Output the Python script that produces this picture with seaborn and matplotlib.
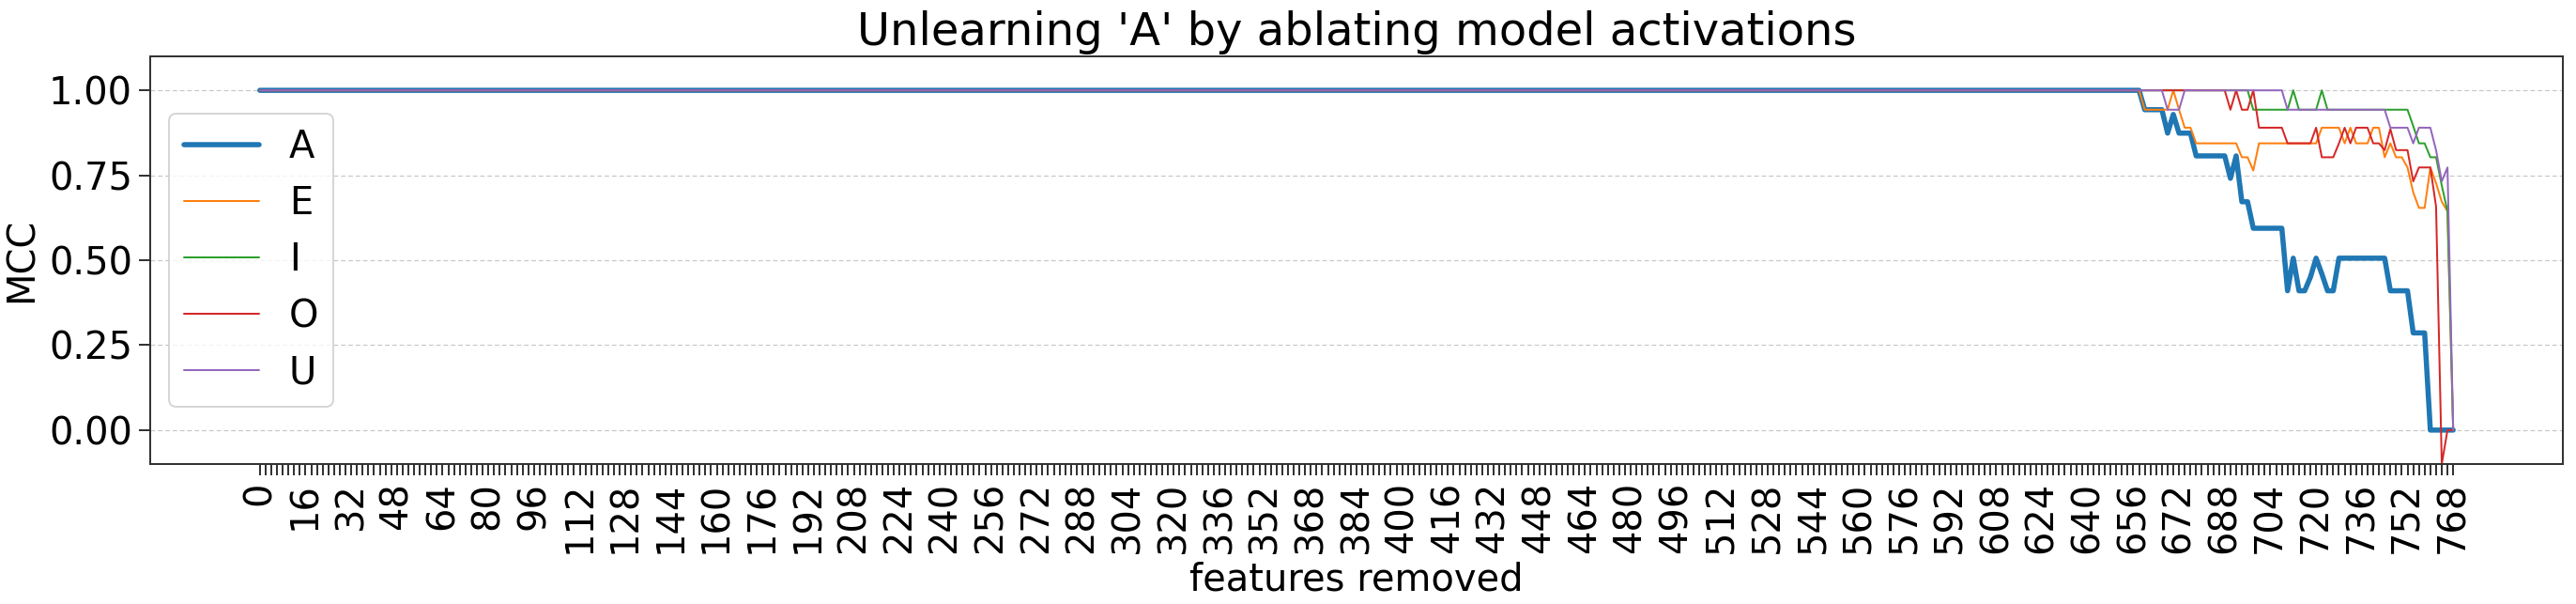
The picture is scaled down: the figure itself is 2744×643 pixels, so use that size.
import pandas as pd
import matplotlib
matplotlib.use("Agg")
import matplotlib.pyplot as plt
import seaborn as sns

# features removed, in steps of 2
features = list(range(0, 770, 2))
# every letter sits at MCC 1.0 until 656 features are removed
n_flat = len(range(0, 656, 2))

# MCC values from 656 to 768 (step 2)
a_tail = [1.0, 1.0, 0.943, 0.943, 0.943, 0.943, 0.874, 0.929, 0.874, 0.874,
          0.874, 0.807, 0.807, 0.807, 0.807, 0.807, 0.807, 0.741, 0.807, 0.672,
          0.672, 0.594, 0.594, 0.594, 0.594, 0.594, 0.594, 0.41, 0.506, 0.41,
          0.41, 0.45, 0.506, 0.46, 0.41, 0.41, 0.506, 0.506, 0.506, 0.506,
          0.506, 0.506, 0.506, 0.506, 0.506, 0.41, 0.41, 0.41, 0.41, 0.286,
          0.286, 0.286, 0.0, 0.0, 0.0, 0.0, 0.0]
e_tail = [1.0, 1.0, 0.943, 0.943, 0.943, 0.943, 0.943, 1.0, 0.943, 0.89,
          0.89, 0.844, 0.844, 0.844, 0.844, 0.844, 0.844, 0.844, 0.844, 0.803,
          0.803, 0.764, 0.844, 0.844, 0.844, 0.844, 0.844, 0.844, 0.844, 0.844,
          0.844, 0.844, 0.844, 0.89, 0.89, 0.89, 0.89, 0.844, 0.89, 0.844,
          0.844, 0.844, 0.89, 0.89, 0.803, 0.844, 0.803, 0.803, 0.773, 0.70,
          0.654, 0.654, 0.773, 0.727, 0.672, 0.644, 0.0]
i_tail = [1.0, 1.0, 1.0, 1.0, 1.0, 1.0, 1.0, 1.0, 1.0, 1.0,
          1.0, 1.0, 1.0, 1.0, 1.0, 1.0, 1.0, 1.0, 1.0, 1.0,
          1.0, 0.943, 0.943, 0.943, 0.943, 0.943, 0.943, 0.943, 1.0, 0.943,
          0.943, 0.943, 0.943, 1.0, 0.943, 0.943, 0.943, 0.943, 0.943, 0.943,
          0.943, 0.943, 0.943, 0.943, 0.943, 0.943, 0.943, 0.943, 0.943, 0.895,
          0.844, 0.844, 0.803, 0.803, 0.72, 0.644, 0.0]
o_tail = [1.0, 1.0, 1.0, 1.0, 1.0, 1.0, 1.0, 1.0, 1.0, 1.0,
          1.0, 1.0, 1.0, 1.0, 1.0, 1.0, 1.0, 0.943, 1.0, 0.943,
          0.943, 1.0, 0.89, 0.89, 0.89, 0.89, 0.89, 0.844, 0.844, 0.844,
          0.844, 0.844, 0.89, 0.803, 0.803, 0.803, 0.844, 0.89, 0.844, 0.89,
          0.89, 0.89, 0.844, 0.844, 0.824, 0.886, 0.824, 0.824, 0.824, 0.732,
          0.773, 0.773, 0.773, 0.658, -0.1, 0.0, 0.0]
u_tail = [1.0, 1.0, 1.0, 1.0, 1.0, 1.0, 0.943, 0.943, 0.943, 1.0,
          1.0, 1.0, 1.0, 1.0, 1.0, 1.0, 1.0, 1.0, 1.0, 1.0,
          1.0, 1.0, 1.0, 1.0, 1.0, 1.0, 1.0, 0.943, 0.943, 0.943,
          0.943, 0.943, 0.943, 0.943, 0.943, 0.943, 0.943, 0.943, 0.943, 0.943,
          0.943, 0.943, 0.943, 0.943, 0.943, 0.89, 0.89, 0.89, 0.89, 0.844,
          0.89, 0.89, 0.89, 0.824, 0.732, 0.773, 0.0]

letters = ["A", "E", "I", "O", "U"]
tails = [a_tail, e_tail, i_tail, o_tail, u_tail]

rows = []
for letter, tail in zip(letters, tails):
    mcc = [1.0] * n_flat + tail
    for f, m in zip(features, mcc):
        rows.append({"features": f, "mcc": m, "letter": letter})
df = pd.DataFrame(rows)

sns.set_theme(style="ticks")
plt.rcParams["text.color"] = "black"
plt.rcParams["axes.labelcolor"] = "black"
colors = sns.color_palette("tab10", 5)

fig, ax = plt.subplots(figsize=(2744 / 144, 643 / 144), dpi=144)
fig.subplots_adjust(left=0.0583, right=0.9949, top=0.9067, bottom=0.2317)

for letter, color in zip(letters, colors):
    lw = 2.75 if letter == "A" else 1.0
    sns.lineplot(data=df[df["letter"] == letter], x="features", y="mcc",
                 label=letter, color=color, linewidth=lw, ax=ax)

ax.set_xlim(-38.4, 806.4)
ax.set_ylim(-0.1, 1.1)
ax.set_xticks(features)
ax.set_xticklabels([str(f) if f % 16 == 0 else "" for f in features],
                   rotation=90, fontsize=20)
ax.set_yticks([0.0, 0.25, 0.5, 0.75, 1.0])
ax.set_yticklabels(["0.00", "0.25", "0.50", "0.75", "1.00"], fontsize=20)
ax.grid(axis="y", linestyle=(0, (4, 2.5)), color="0.78", linewidth=0.6)
for spine in ax.spines.values():
    spine.set_color("0.2")
    spine.set_linewidth(1.0)
ax.tick_params(colors="0.2", labelcolor="black", width=1.0)

ax.set_title("Unlearning 'A' by ablating model activations", fontsize=24)
ax.set_xlabel("features removed", fontsize=20)
ax.set_ylabel("MCC", fontsize=20)
leg = ax.legend(loc="center left", fontsize=20)
for t in leg.get_texts():
    t.set_color("black")

plt.savefig("out.png", dpi=144)
